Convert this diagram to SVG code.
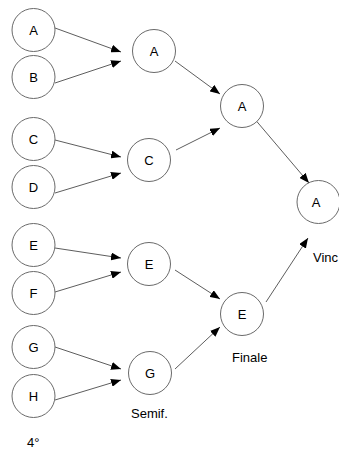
<svg xmlns="http://www.w3.org/2000/svg" width="339" height="451" viewBox="0 0 339 451">
<defs>
<style>
.n circle{fill:#fff;stroke:#6a6a6a;stroke-width:1}
text{font-family:"Liberation Sans",Arial,sans-serif;font-size:13px;fill:#000}
.n text{text-anchor:middle}
.e line{stroke:#333;stroke-width:0.8;marker-end:url(#ah)}
</style>
<marker id="ah" viewBox="0 0 10 8" refX="10" refY="4" markerWidth="10" markerHeight="8" markerUnits="userSpaceOnUse" orient="auto">
<path d="M0,0 L10,4 L0,8 Z" fill="#000"/>
</marker>
</defs>
<rect width="339" height="451" fill="#fff"/>
<g class="e" id="edges">
<line x1="55" y1="28" x2="121" y2="52"/>
<line x1="55" y1="83" x2="121" y2="61"/>
<line x1="55" y1="140" x2="121" y2="157"/>
<line x1="55" y1="193" x2="121" y2="173"/>
<line x1="55" y1="248" x2="121" y2="258"/>
<line x1="55" y1="292" x2="121" y2="272"/>
<line x1="55" y1="347" x2="121" y2="369"/>
<line x1="55" y1="400" x2="121" y2="380"/>
<line x1="175" y1="61" x2="220" y2="94"/>
<line x1="176" y1="150" x2="220" y2="128"/>
<line x1="175" y1="270" x2="220" y2="299"/>
<line x1="175" y1="369" x2="220" y2="327"/>
<line x1="253" y1="117" x2="309" y2="183"/>
<line x1="266" y1="302" x2="308" y2="238"/>
</g>
<g class="n" id="nA1"><circle cx="33.5" cy="30" r="21.5"/><text x="33.5" y="34.5">A</text></g>
<g class="n" id="nB1"><circle cx="33.5" cy="77" r="21.5"/><text x="33.5" y="81.5">B</text></g>
<g class="n" id="nC1"><circle cx="33.5" cy="139" r="21.5"/><text x="33.5" y="143.5">C</text></g>
<g class="n" id="nD1"><circle cx="33.5" cy="187" r="21.5"/><text x="33.5" y="191.5">D</text></g>
<g class="n" id="nE1"><circle cx="33.5" cy="245" r="21.5"/><text x="33.5" y="249.5">E</text></g>
<g class="n" id="nF1"><circle cx="33.5" cy="293" r="21.5"/><text x="33.5" y="297.5">F</text></g>
<g class="n" id="nG1"><circle cx="33.5" cy="347" r="21.5"/><text x="33.5" y="351.5">G</text></g>
<g class="n" id="nH1"><circle cx="33.5" cy="396" r="21.5"/><text x="33.5" y="400.5">H</text></g>
<g class="n" id="nA2"><circle cx="154" cy="51" r="21.5"/><text x="154" y="55.5">A</text></g>
<g class="n" id="nC2"><circle cx="149" cy="160" r="21.5"/><text x="149" y="164.5">C</text></g>
<g class="n" id="nE2"><circle cx="149" cy="264" r="21.5"/><text x="149" y="268.5">E</text></g>
<g class="n" id="nG2"><circle cx="150" cy="373" r="21.5"/><text x="150" y="377.5">G</text></g>
<g class="n" id="nA3"><circle cx="242" cy="106" r="21.5"/><text x="242" y="110.5">A</text></g>
<g class="n" id="nE3"><circle cx="242" cy="314" r="21.5"/><text x="242" y="318.5">E</text></g>
<g class="n" id="nA4"><circle cx="318.5" cy="202" r="21.5"/><text x="316" y="207">A</text></g>
<text x="313" y="262">Vinc</text>
<text x="232" y="362">Finale</text>
<text x="131" y="418">Semif.</text>
<text x="27" y="447">4°</text>
</svg>
